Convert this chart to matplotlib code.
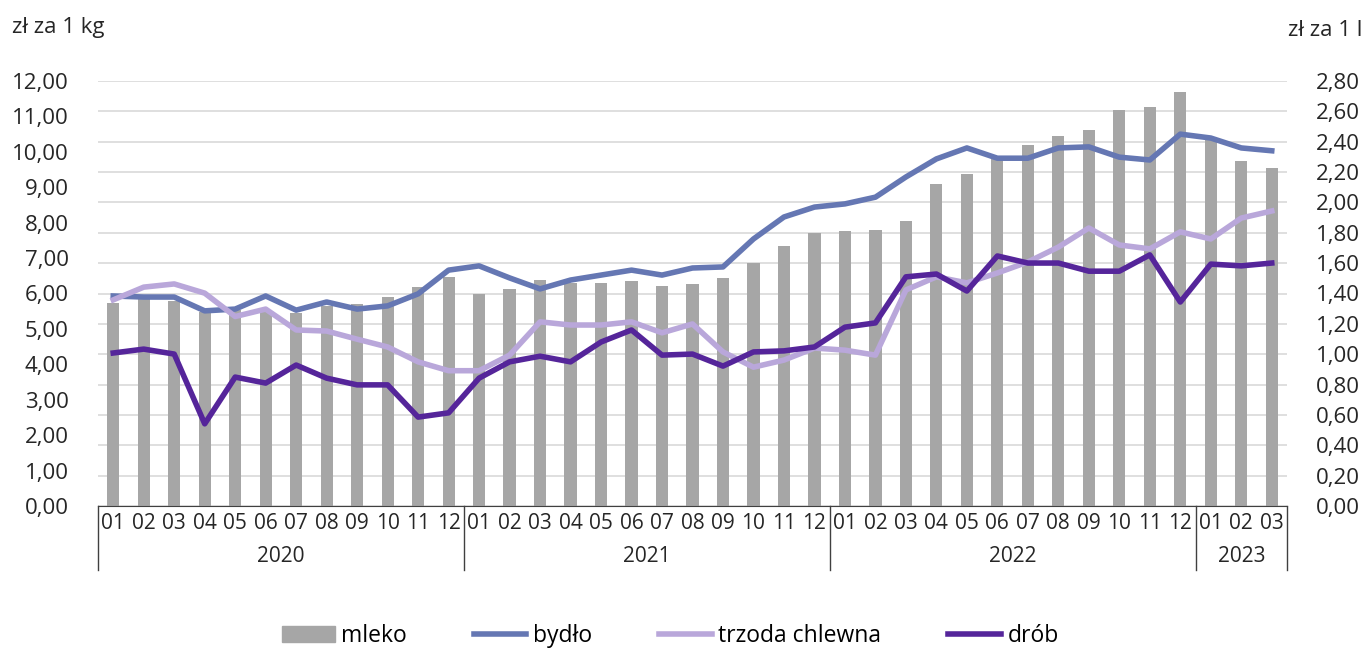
import matplotlib
matplotlib.use('Agg')
import matplotlib.pyplot as plt
from matplotlib.ticker import FuncFormatter, MultipleLocator
from matplotlib.patches import Patch
from matplotlib.lines import Line2D
import matplotlib.transforms as mtransforms

plt.rcParams['font.family'] = ['Open Sans', 'DejaVu Sans']

years = ['2020', '2021', '2022', '2023']
year_months = [12, 12, 12, 3]
months = [f'{m:02d}' for m in range(1, 13)] * 3 + ['01', '02', '03']

# zł za 1 l (right axis)
mleko = [1.34, 1.37, 1.35, 1.28, 1.29, 1.28, 1.27, 1.32, 1.33, 1.38, 1.44, 1.51,
         1.40, 1.43, 1.49, 1.47, 1.47, 1.48, 1.45, 1.46, 1.50, 1.60, 1.71, 1.80,
         1.81, 1.82, 1.88, 2.12, 2.19, 2.29, 2.38, 2.44, 2.48, 2.61, 2.63, 2.73,
         2.41, 2.27, 2.23]

# zł za 1 kg (left axis)
bydlo = [5.93, 5.90, 5.90, 5.51, 5.56, 5.93, 5.53, 5.76, 5.56, 5.65, 5.99, 6.66,
         6.78, 6.44, 6.13, 6.38, 6.52, 6.66, 6.52, 6.72, 6.75, 7.54, 8.16, 8.44,
         8.53, 8.72, 9.29, 9.80, 10.11, 9.82, 9.82, 10.11, 10.14, 9.85, 9.77, 10.50,
         10.39, 10.11, 10.03]

trzoda = [5.82, 6.18, 6.27, 6.01, 5.35, 5.56, 4.97, 4.94, 4.71, 4.49, 4.07, 3.82,
          3.82, 4.26, 5.20, 5.11, 5.11, 5.20, 4.89, 5.14, 4.35, 3.92, 4.12, 4.46,
          4.40, 4.26, 6.10, 6.47, 6.30, 6.58, 6.89, 7.31, 7.85, 7.37, 7.26, 7.74,
          7.54, 8.13, 8.33]

drob = [4.32, 4.43, 4.29, 2.32, 3.64, 3.47, 3.98, 3.61, 3.42, 3.42, 2.51, 2.63,
        3.61, 4.07, 4.23, 4.07, 4.63, 4.97, 4.26, 4.29, 3.95, 4.35, 4.38, 4.49,
        5.05, 5.17, 6.47, 6.55, 6.07, 7.06, 6.86, 6.86, 6.63, 6.63, 7.09, 5.76,
        6.83, 6.78, 6.86]

c_bar = '#A6A6A6'
c_bydlo = '#6577B3'
c_trzoda = '#B9A7DA'
c_drob = '#55259A'
c_text = '#262626'
fs = 16


def comma(v, pos):
    return f'{v:.2f}'.replace('.', ',')


def main():
    fig = plt.figure(figsize=(13.68, 6.53), dpi=100)
    ax = fig.add_axes([98 / 1368, 1 - 506 / 653, (1287 - 98) / 1368, 425 / 653])
    ax2 = ax.twinx()
    x = list(range(len(months)))

    # bars on the right axis (drawn first, below lines)
    ax.bar(x, mleko, width=0.4, color=c_bar, zorder=2)
    ax.set_ylim(0, 2.8)
    ax.yaxis.set_major_locator(MultipleLocator(0.2))
    ax.yaxis.set_major_formatter(FuncFormatter(comma))
    ax.grid(axis='y', color='#D9D9D9', lw=1.2)
    ax.set_axisbelow(True)
    for s in ['top', 'left', 'right']:
        ax.spines[s].set_visible(False)
    ax.spines['bottom'].set_color('#404040')
    ax.set_xlim(-0.5, len(months) - 0.5)
    ax.set_xticks(x)
    ax.set_xticklabels(months, color=c_text)
    ax.tick_params(axis='x', length=0, labelsize=fs - 1, pad=5)

    # lines on the left axis
    ax2.plot(x, bydlo, color=c_bydlo, lw=4, solid_joinstyle='round')
    ax2.plot(x, trzoda, color=c_trzoda, lw=4, solid_joinstyle='round')
    ax2.plot(x, drob, color=c_drob, lw=4, solid_joinstyle='round')
    ax2.set_ylim(0, 12)
    ax2.yaxis.set_major_locator(MultipleLocator(1))
    ax2.yaxis.set_major_formatter(FuncFormatter(comma))
    for s in ax2.spines.values():
        s.set_visible(False)

    # swap the tick sides: bars scale on the right, lines scale on the left
    ax.yaxis.tick_right()
    ax2.yaxis.tick_left()
    ax.tick_params(axis='y', length=0, labelsize=fs, pad=21, labelcolor=c_text)
    ax2.tick_params(axis='y', length=0, labelsize=fs, pad=21, labelcolor=c_text)

    # year groups under the month labels
    trans = mtransforms.blended_transform_factory(ax.transData, ax.transAxes)
    start = -0.5
    bounds = [start]
    for yr, n in zip(years, year_months):
        ax.text(start + n / 2, -0.118, yr, transform=trans, ha='center', va='center',
                fontsize=fs - 1, color=c_text)
        start += n
        bounds.append(start)
    for b in bounds:
        ax.add_line(Line2D([b, b], [0, -0.15], transform=trans, color='#404040',
                           lw=1, clip_on=False))

    fig.text(12 / 1368, 1 - 27 / 653, 'zł za 1 kg', fontsize=fs, va='center', ha='left',
             color=c_text)
    fig.text(1288 / 1368, 1 - 30 / 653, 'zł za 1 l', fontsize=fs, va='center', ha='left',
             color=c_text)

    handles = [Patch(color=c_bar),
               Line2D([], [], color=c_bydlo, lw=4),
               Line2D([], [], color=c_trzoda, lw=4),
               Line2D([], [], color=c_drob, lw=4)]
    fig.legend(handles, ['mleko', 'bydło', 'trzoda chlewna', 'drób'], loc='center',
               bbox_to_anchor=(0.49, 0.026), ncol=4, frameon=False, fontsize=fs + 0.5,
               handlelength=2.3, handletextpad=0.3, columnspacing=2.9,
               borderpad=0.1)

    fig.savefig('out.png', dpi=100)


if __name__ == '__main__':
    main()
